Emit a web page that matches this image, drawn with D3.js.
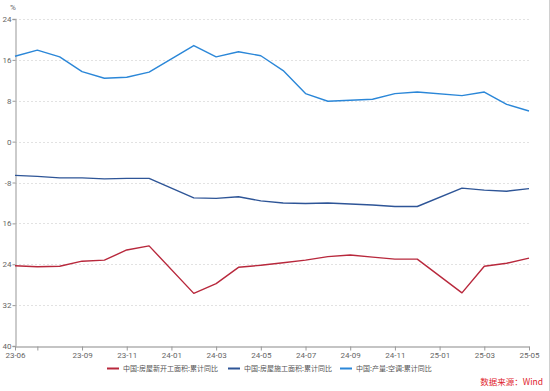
<!DOCTYPE html>
<html><head><meta charset="utf-8">
<script src="https://cdn.jsdelivr.net/npm/d3@7/dist/d3.min.js"></script>
<style>
html,body{margin:0;padding:0;background:#fff;}
svg{display:block;font-family:"Noto Sans CJK SC","Noto Sans",sans-serif;}
</style></head><body>
<svg id="c" width="550" height="391"></svg>
<script>
const months = ["23-06","23-07","23-08","23-09","23-10","23-11","23-12","24-01","24-02","24-03","24-04","24-05","24-06","24-07","24-08","24-09","24-10","24-11","24-12","25-01","25-02","25-03","25-04","25-05"];
const xTickLabels = ["23-06","23-07","23-09","23-11","24-01","24-03","24-05","24-07","24-09","24-11","25-01","25-03","25-05"];
const yTicks = [24,16,8,0,-8,-16,-24,-32,-40];
// tick texts as printed in the reference (left part of the longer labels is cut off there)
const yTickTexts = ["24","16","8","0","-8","16","24","32","40"];
const seriesNames = ["中国:房屋新开工面积:累计同比","中国:房屋施工面积:累计同比","中国:产量:空调:累计同比"];
const newStarts = [-24.3,-24.5,-24.4,-23.4,-23.2,-21.2,-20.4,null,-29.7,-27.8,-24.6,-24.2,-23.7,-23.2,-22.5,-22.2,-22.6,-23.0,-23.0,null,-29.6,-24.4,-23.8,-22.8];
const underConstruction = [-6.6,-6.8,-7.1,-7.1,-7.3,-7.2,-7.2,null,-11.0,-11.1,-10.8,-11.6,-12.0,-12.1,-12.0,-12.2,-12.4,-12.7,-12.7,null,-9.1,-9.5,-9.7,-9.2];
const acOutput = [16.7,17.9,16.6,13.7,12.4,12.6,13.6,null,18.8,16.6,17.6,16.8,13.9,9.4,7.9,8.1,8.3,9.4,9.7,null,9.0,9.7,7.3,6.0];
const colors = ["#b8283c","#2e5597","#2b87d8"];

const svg = d3.select("#c");
const pLeft = 15, pRight = 529, pTop = 19, pBottom = 346;
const x = d3.scalePoint().domain(months).range([pLeft, pRight]);
const y = d3.scaleLinear().domain([-40, 24]).range([pBottom, pTop]);

// right border
svg.append("line").attr("x1",549.5).attr("x2",549.5).attr("y1",0).attr("y2",391)
  .attr("stroke","#d0d0d0").attr("stroke-width",1);

// grid
svg.append("g").selectAll("line").data(yTicks.filter(d=>d!==-40)).join("line")
  .attr("x1",pLeft).attr("x2",pRight+1)
  .attr("y1",d=>Math.round(y(d))+0.5).attr("y2",d=>Math.round(y(d))+0.5)
  .attr("stroke","#e2e2e2").attr("stroke-dasharray","2,2").attr("stroke-width",1);

// y axis
const yAxis = svg.append("g").attr("transform",`translate(${pLeft+0.5},0)`)
  .call(d3.axisLeft(y).tickValues(yTicks).tickSize(3).tickPadding(1)
    .tickFormat(d=>yTickTexts[yTicks.indexOf(d)]));
yAxis.select(".domain").attr("stroke","#b0b0b0").attr("stroke-width",1.3);
yAxis.selectAll(".tick line").attr("stroke","#999");
yAxis.selectAll("text").attr("fill","#666").attr("font-size",8).attr("font-family","Roboto, 'Noto Sans', sans-serif");

svg.append("text").attr("x",13).attr("y",10).attr("text-anchor","middle")
  .attr("fill","#666").attr("font-size",8).attr("font-family","Roboto, sans-serif").text("%");

// x axis
const xAxis = svg.append("g").attr("transform",`translate(0,${pBottom+0.5})`)
  .call(d3.axisBottom(x).tickValues(xTickLabels).tickSize(4).tickPadding(2)
    .tickSizeOuter(0).tickFormat(d=>d==="23-07"?"":d));
xAxis.select(".domain").attr("stroke","#b0b0b0").attr("stroke-width",1.3);
xAxis.selectAll(".tick line").attr("stroke","#999");
xAxis.selectAll("text").attr("fill","#666").attr("font-size",8).attr("font-family","Roboto, 'Noto Sans', sans-serif");

// lines
const line = d3.line().x(d=>x(d.m)).y(d=>y(d.v));
[newStarts, underConstruction, acOutput].forEach((arr,i)=>{
  const pts = months.map((m,j)=>({m, v: arr[j]})).filter(d=>d.v!==null);
  svg.append("path").datum(pts).attr("d",line).attr("fill","none")
    .attr("stroke",colors[i]).attr("stroke-width",1.4).attr("stroke-linejoin","round");
});

// legend
const legX = [107, 228, 340];
const lg = svg.append("g");
seriesNames.forEach((n,i)=>{
  lg.append("line").attr("x1",legX[i]).attr("x2",legX[i]+12).attr("y1",368.5).attr("y2",368.5)
    .attr("stroke",colors[i]).attr("stroke-width",2);
  lg.append("text").attr("x",legX[i]+16).attr("y",371).attr("fill","#555")
    .attr("font-size",7).text(n);
});

// source
svg.append("text").attr("x",543).attr("y",385).attr("text-anchor","end")
  .attr("fill","#e0242c").attr("font-size",8.5).text("数据来源：Wind");
</script>
</body></html>
